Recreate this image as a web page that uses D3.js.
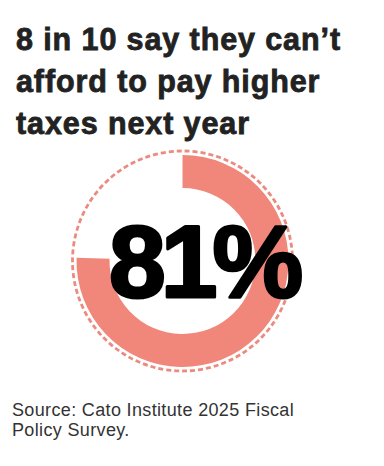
<!DOCTYPE html>
<html><head><meta charset="utf-8">
<script src="https://cdn.jsdelivr.net/npm/d3@7"></script>
<style>body{margin:0;background:#fff;}svg{display:block;}</style>
</head><body>
<script>
const titleLines = ["8 in 10 say they can’t", "afford to pay higher", "taxes next year"];
const bigLabel = ["81%"];
const arcShare = [75.5]; // share of the ring filled, as drawn
const sourceLines = ["Source: Cato Institute 2025 Fiscal", "Policy Survey."];

const W = 384, H = 466;
const svg = d3.select("body").append("svg").attr("width", W).attr("height", H);

svg.selectAll("text.title").data(titleLines).join("text")
  .attr("class","title")
  .attr("x", 16).attr("y", (d,i) => 50 + i*42)
  .attr("font-family", "Liberation Sans, Arial, sans-serif")
  .attr("font-weight", "bold").attr("font-size", 30.5)
  .attr("letter-spacing", 0.9)
  .attr("fill", "#222").attr("stroke", "#222").attr("stroke-width", 0.8)
  .text(d => d);

const cx = 182.5, cy = 261;
const angle = d3.scaleLinear().domain([0, 100]).range([0, 2*Math.PI]);
const g = svg.append("g").attr("transform", `translate(${cx},${cy})`);

g.append("circle").attr("r", 110).attr("fill", "none")
  .attr("stroke", "#eb8a7f").attr("stroke-width", 2.8).attr("stroke-dasharray", "5,3");

const arc = d3.arc().innerRadius(73).outerRadius(106).startAngle(0);
g.selectAll("path.share").data(arcShare).join("path")
  .attr("class","share")
  .attr("d", d => arc({endAngle: angle(d)}))
  .attr("fill", "#f1877a");

g.selectAll("text.big").data(bigLabel).join("text")
  .attr("class","big")
  .attr("x", 21).attr("y", 36)
  .attr("text-anchor", "middle")
  .attr("font-family", "Liberation Sans, Arial, sans-serif")
  .attr("font-weight", "bold").attr("font-size", 102)
  .attr("letter-spacing", -5)
  .attr("fill", "#000").attr("stroke", "#000").attr("stroke-width", 3)
  .attr("stroke-linejoin", "round")
  .text(d => d);

svg.selectAll("text.src").data(sourceLines).join("text")
  .attr("class","src")
  .attr("x", 12).attr("y", (d,i) => 416 + i*20)
  .attr("font-family", "Liberation Sans, Arial, sans-serif")
  .attr("font-size", 18).attr("letter-spacing", 0.35).attr("fill", "#333")
  .text(d => d);
</script>
</body></html>
